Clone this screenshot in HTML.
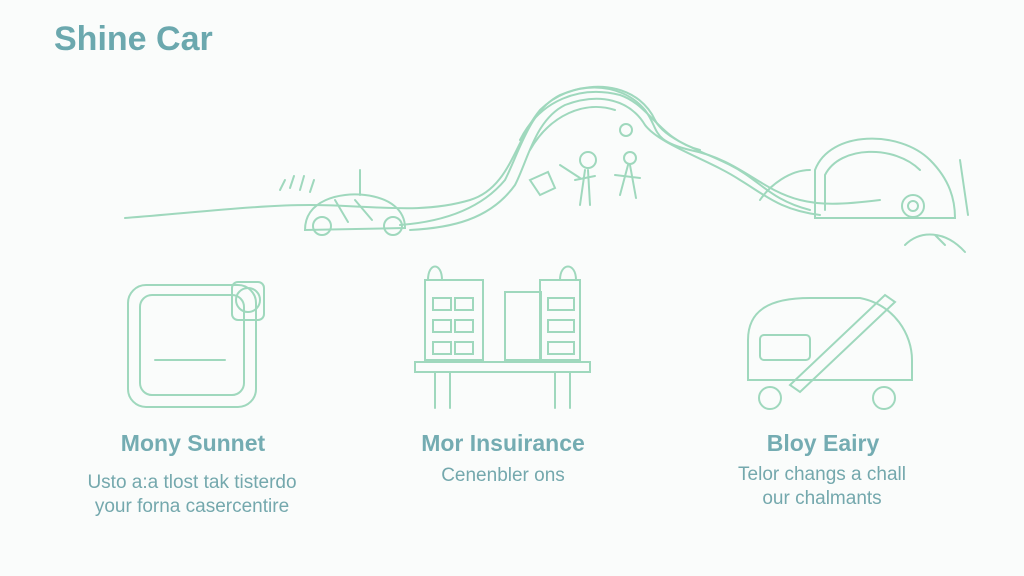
<!DOCTYPE html>
<html><head><style>
html,body{margin:0;padding:0;background:#fafcfb;}
body{width:1024px;height:576px;position:relative;overflow:hidden;font-family:"Liberation Sans",sans-serif;}
.t{position:absolute;color:#6ba8ae;white-space:nowrap;}
.h{font-weight:bold;font-size:23px;color:#74acb2;transform:translateX(-50%);}
.s{font-size:19px;color:#74a8ad;text-align:center;transform:translateX(-50%);line-height:24px;}
</style></head><body>
<div class="t" style="left:54px;top:20px;font-size:34px;font-weight:bold;">Shine Car</div>
<svg width="1024" height="576" style="position:absolute;left:0;top:0" fill="none" stroke="#9fd8bd" stroke-width="2" stroke-linecap="round">
<path d="M125 218 C200 212 260 205 310 205 C370 205 420 215 470 200 C510 188 515 140 540 110 C570 80 620 80 645 110 C660 130 650 140 690 150 C740 160 760 190 800 200 C820 205 840 205 880 200"/>
<path d="M400 225 C440 222 480 210 505 180 C520 150 530 110 560 95 C600 78 640 88 655 120 C665 140 700 150 730 165 C760 180 770 200 810 210"/>
<path d="M410 230 C450 228 490 220 515 185 C528 160 535 120 565 105 C600 92 630 100 645 125 C660 145 710 160 740 180 C765 195 780 210 820 215"/>
<path d="M520 140 C540 100 580 85 620 95 C650 105 660 140 700 150"/>
<path d="M530 150 C550 115 585 100 615 110"/>
<path d="M760 200 C770 185 790 170 810 170"/>
<path d="M305 230 C305 200 340 192 365 195 C390 198 405 210 405 228 L305 230Z"/>
<circle cx="322" cy="226" r="9"/><circle cx="393" cy="226" r="9"/>
<path d="M335 200 L348 222 M355 200 L372 220 M360 170 L360 195"/>
<path d="M280 190 L285 180 M290 188 L294 176 M300 190 L304 176 M310 192 L314 180"/>
<circle cx="588" cy="160" r="8"/><path d="M585 170 L580 205 M588 170 L590 205 M575 180 L595 176 M560 165 L580 178"/>
<circle cx="626" cy="130" r="6"/><circle cx="630" cy="158" r="6"/><path d="M628 165 L620 195 M630 165 L636 198 M615 175 L640 178"/>
<path d="M530 180 L548 172 L555 188 L540 195Z"/>
<path d="M815 218 L815 170 C830 130 900 130 930 160 C950 180 955 200 955 218 Z"/>
<path d="M825 210 L825 175 C840 145 895 145 920 170"/>
<circle cx="913" cy="206" r="11"/><circle cx="913" cy="206" r="5"/>
<path d="M905 245 C920 230 945 230 965 252 M935 235 L945 245"/>
<path d="M960 160 L968 215"/>
<rect x="128" y="285" width="128" height="122" rx="18"/>
<rect x="140" y="295" width="104" height="100" rx="12"/>
<path d="M155 360 L225 360"/>
<rect x="232" y="282" width="32" height="38" rx="6"/><circle cx="248" cy="300" r="12"/>
<rect x="425" y="280" width="58" height="80"/><rect x="540" y="280" width="40" height="80"/>
<rect x="505" y="292" width="36" height="68"/>
<path d="M415 362 L590 362 L590 372 L415 372Z M435 372 L435 408 M450 372 L450 408 M555 372 L555 408 M570 372 L570 408"/>
<path d="M428 280 C428 262 442 262 442 280 M560 280 C560 262 576 262 576 280"/>
<rect x="433" y="298" width="18" height="12"/><rect x="455" y="298" width="18" height="12"/><rect x="433" y="320" width="18" height="12"/><rect x="455" y="320" width="18" height="12"/><rect x="433" y="342" width="18" height="12"/><rect x="455" y="342" width="18" height="12"/>
<rect x="548" y="298" width="26" height="12"/><rect x="548" y="320" width="26" height="12"/><rect x="548" y="342" width="26" height="12"/>
<path d="M748 380 L748 340 C748 310 770 298 810 298 L860 298 C895 305 912 335 912 360 L912 380 Z"/>
<rect x="760" y="335" width="50" height="25" rx="4"/>
<circle cx="770" cy="398" r="11"/><circle cx="884" cy="398" r="11"/>
<path d="M790 385 L885 295 L895 302 L800 392 Z"/>
</svg>
<div class="t h" style="left:193px;top:430px;">Mony Sunnet</div>
<div class="t s" style="left:192px;top:471px;">Usto a:a tlost tak tisterdo<br>your forna casercentire</div>
<div class="t h" style="left:503px;top:430px;">Mor Insuirance</div>
<div class="t s" style="left:503px;top:464px;">Cenenbler ons</div>
<div class="t h" style="left:823px;top:430px;">Bloy Eairy</div>
<div class="t s" style="left:822px;top:463px;">Telor changs a chall<br>our chalmants</div>
</body></html>
